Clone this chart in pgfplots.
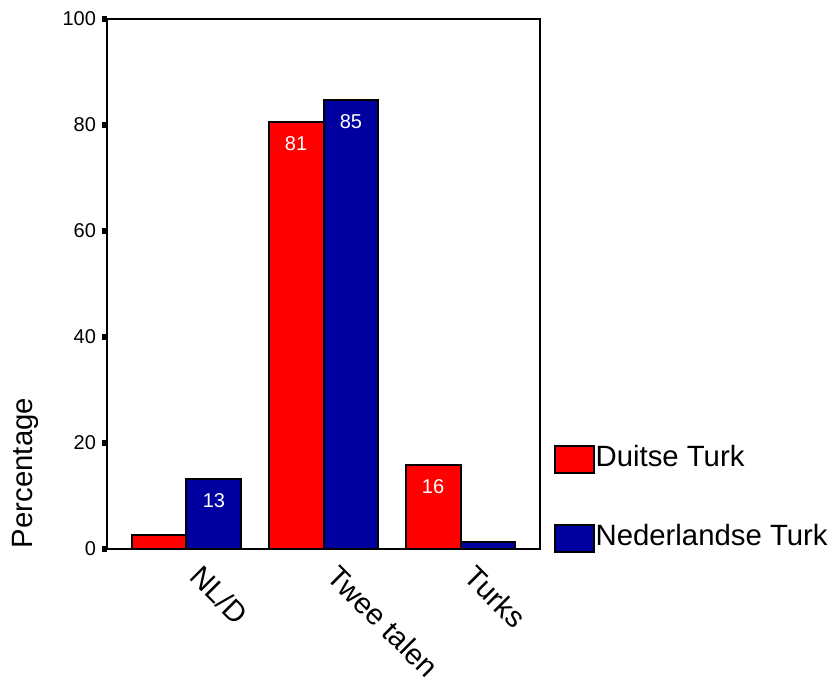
\documentclass[border=0pt]{standalone}
\usepackage{pgfplots}
\pgfplotsset{compat=1.18}
\usepackage{fontspec}
\setmainfont{Liberation Sans}
\definecolor{barred}{RGB}{255,0,0}
\definecolor{barblue}{RGB}{0,0,160}
\begin{document}
\begin{tikzpicture}
\useasboundingbox (-80.25pt,-98.25pt) rectangle (549.75pt,411.75pt);
\begin{axis}[
  at={(0pt,0pt)}, anchor=south west,
  scale only axis, width=324.75pt, height=397.5pt,
  ybar=0pt, bar width=0.4,
  xmin=-0.58, xmax=2.58, ymin=0, ymax=100,
  xtick={0,1,2}, xticklabels={NL/D, Twee talen, Turks},
  xtick style={draw=none},
  ytick={0,20,40,60,80,100},
  ytick pos=left, tick align=outside,
  major tick length=3.75pt,
  ytick style={line width=4.5pt, black},
  axis line style={line width=1.5pt},
  /pgf/number format/assume math mode=true,
  yticklabel style={font=\fontsize{15}{18}\selectfont, xshift=-1pt},
  xticklabel style={font=\fontsize{22}{26}\selectfont, rotate=-45, anchor=north west, inner sep=0pt, xshift=14pt, yshift=4pt},
  point meta=explicit symbolic,
  nodes near coords,
  every node near coord/.append style={text=white, anchor=north, yshift=-7pt, font=\fontsize{15}{18}\selectfont},
  legend image code/.code={\draw[#1] (0pt,-12pt) rectangle (29pt,8.25pt);},
  legend style={draw=none, fill=none, at={(1,0)}, anchor=south west, xshift=10.5pt, yshift=-3pt,
    inner sep=0pt, row sep=37pt, nodes={inner sep=0.5pt}, font=\fontsize{22}{26}\selectfont},
  legend cell align=left,
]
\addplot[draw=black, line width=1.5pt, fill=barred] coordinates {(0,2.6) [] (1,80.6) [81] (2,15.8) [16]};
\addplot[draw=black, line width=1.5pt, fill=barblue] coordinates {(0,13.3) [13] (1,84.7) [85] (2,1.4) []};
\legend{Duitse Turk, Nederlandse Turk}
\end{axis}
\node[rotate=90, font=\fontsize{22}{26}\selectfont] at (-61.5pt,57pt) {Percentage};
\end{tikzpicture}
\end{document}
